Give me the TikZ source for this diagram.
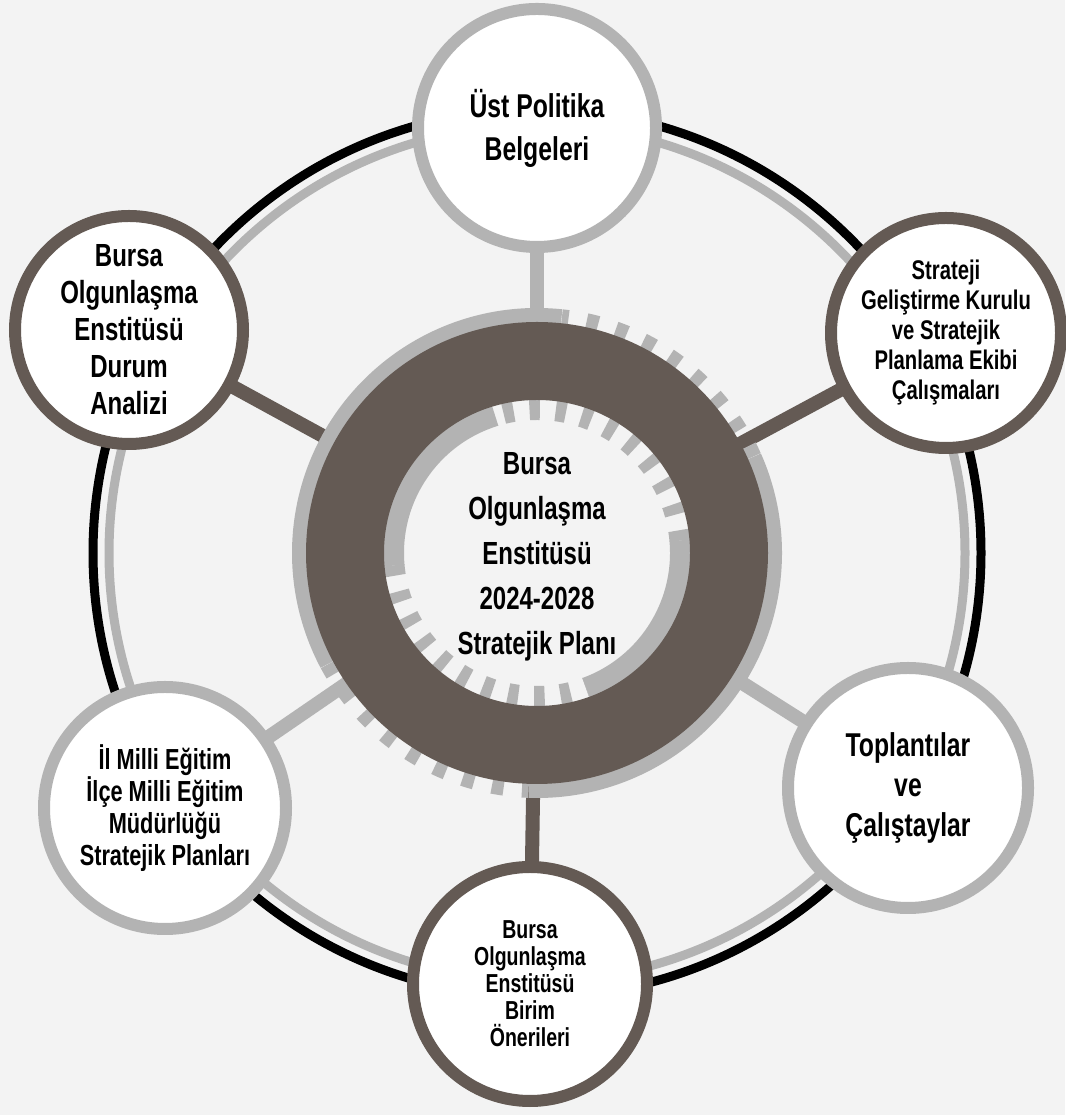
\documentclass[tikz,border=0pt]{standalone}
\usepackage{fontspec}
\setmainfont{Liberation Sans}[FakeStretch=0.75]
\usetikzlibrary{calc}
\definecolor{brn}{HTML}{645A54}
\definecolor{lgr}{HTML}{B3B3B3}
\definecolor{bgc}{HTML}{F3F3F3}
\pgfdeclarelayer{Lzero}
\pgfdeclarelayer{Lone}
\pgfsetlayers{Lzero,Lone,main}
\tikzset{
  bubble/.style={circle, fill=white, line width=12pt, align=center, inner sep=0pt, text=black},
  graybubble/.style={bubble, draw=lgr},
  brownbubble/.style={bubble, draw=brn},
  spokebrown/.style={brn, line width=14pt},
  spokegray/.style={lgr, line width=14pt},
  segsolid/.style={lgr},
  segdash/.style={lgr, dash pattern=on 11pt off 17pt},
  bigring/.style={line width=9pt}
}
\newcommand{\fsz}[2]{\fontsize{#1}{#2}\selectfont\bfseries}
\begin{document}
\begin{tikzpicture}[x=1pt,y=1pt]
\useasboundingbox (0,0) rectangle (1065,1115);
\coordinate (C) at (537,562);

% outer nodes
\node[graybubble, minimum size=238pt, font=\fsz{33}{43}] (top) at (537,987) {Üst Politika\\Belgeleri};
\node[brownbubble, minimum size=228pt, font=\fsz{32}{37}] (ul) at (129,785) {Bursa\\Olgunlaşma\\Enstitüsü\\Durum\\Analizi};
\node[brownbubble, minimum size=230pt, font=\fsz{27}{30}] (ur) at (946,782) {Strateji\\Geliştirme Kurulu\\ve Stratejik\\Planlama Ekibi\\Çalışmaları};
\node[graybubble, minimum size=240pt, font=\fsz{33}{40}] (rt) at (908,327) {Toplantılar\\ve\\Çalıştaylar};
\node[brownbubble, minimum size=234pt, font=\fsz{26}{27}] (bt) at (530,131) {Bursa\\Olgunlaşma\\Enstitüsü\\Birim\\Önerileri};
\node[graybubble, minimum size=242pt, font=\fsz{29}{32}] (ll) at (165,307) {İl Milli Eğitim\\İlçe Milli Eğitim\\Müdürlüğü\\Stratejik Planları};

% center text
\node[align=center, font=\fsz{32}{45}, text=black] (ctr) at (537,558) {Bursa\\Olgunlaşma\\Enstitüsü\\2024-2028\\Stratejik Planı};

\begin{pgfonlayer}{Lzero}
  \fill[bgc] (0,0) rectangle (1065,1115);
  \draw[bigring, lgr] (C) circle[radius=428];
  \draw[bigring, black] (C) circle[radius=444];
  \draw[spokegray]  ($(C)!190pt!(top)$) -- (top.center);
  \draw[spokebrown] ($(C)!190pt!(ul)$) -- (ul.center);
  \draw[spokebrown] ($(C)!190pt!(ur)$) -- (ur.center);
  \draw[spokegray]  ($(C)!190pt!(rt)$) -- (rt.center);
  \draw[spokebrown] ($(C)!190pt!(bt)$) -- (bt.center);
  \draw[spokegray]  ($(C)!190pt!(ll)$) -- (ll.center);
\end{pgfonlayer}

\begin{pgfonlayer}{Lone}
  % outer half of the gray band
  \draw[segsolid, line width=50pt] ([shift={(C)}]84:220) arc[start angle=84, end angle=208, radius=220];
  \draw[segsolid, line width=50pt] ([shift={(C)}]-92:220) arc[start angle=-92, end angle=24, radius=220];
  \draw[segdash, line width=50pt] ([shift={(C)}]24:220) arc[start angle=24, end angle=84, radius=220];
  \draw[segdash, line width=50pt] ([shift={(C)}]208:220) arc[start angle=208, end angle=268, radius=220];
  % inner half of the gray band
  \draw[segsolid, line width=40pt] ([shift={(C)}]107:153) arc[start angle=107, end angle=185, radius=153];
  \draw[segsolid, line width=40pt] ([shift={(C)}]-70:153) arc[start angle=-70, end angle=5, radius=153];
  \draw[segdash, line width=40pt] ([shift={(C)}]5:153) arc[start angle=5, end angle=107, radius=153];
  \draw[segdash, line width=40pt] ([shift={(C)}]185:153) arc[start angle=185, end angle=290, radius=153];
  % brown ring
  \fill[brn, even odd rule] (C) circle[radius=231] (C) circle[radius=153];
\end{pgfonlayer}
\end{tikzpicture}
\end{document}
